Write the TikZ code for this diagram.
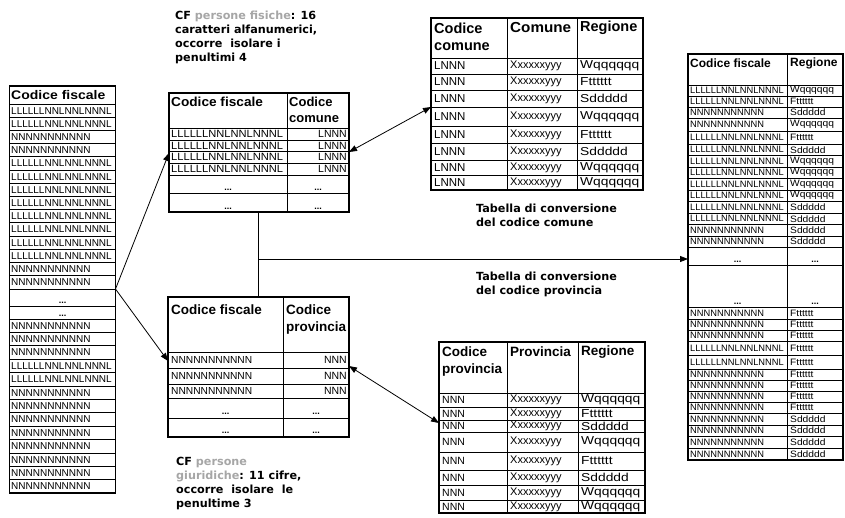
\documentclass[tikz,border=0pt]{standalone}
\usepackage{fontspec}
\usepackage{graphicx}
\setmainfont{Liberation Sans}
\newfontfamily\capfont{DejaVu Sans}
\usetikzlibrary{arrows.meta}
\definecolor{lgray}{RGB}{166,166,166}
\newcommand\cfL{LLLLLLNNLNNLNNNL}
\newcommand\cfN{NNNNNNNNNNN}
\newcommand\rgW{Wqqqqqq}
\newcommand\rgF{Ftttttt}
\newcommand\rgS{Sddddd}
\newcommand\fsz[1]{\fontsize{#1}{#1}\selectfont}
\newcommand\hx[2]{\scalebox{#1}[1]{#2}}
\begin{document}
\begin{tikzpicture}[x=1pt,y=-1pt,
  tframe/.style={draw, line width=1.1pt, inner sep=0pt, outer sep=0pt, anchor=north west},
  rl/.style={line width=0.7pt},
  cell/.style={inner sep=0pt, anchor=west},
  rcell/.style={inner sep=0pt, anchor=east},
  dotcell/.style={inner sep=0pt, anchor=base, font=\fsz{9}\bfseries},
  hd/.style={inner sep=0pt, anchor=west, font=\bfseries},
  conn/.style={line width=0.8pt},
  arr/.style={conn, -{Triangle[length=8pt,width=6pt]}},
  darr/.style={conn, {Triangle[length=8pt,width=6pt]}-{Triangle[length=8pt,width=6pt]}},
  captxt/.style={inner sep=0pt, anchor=north west, align=left, font=\capfont\bfseries\fontsize{11.2}{14}\selectfont}
]
\useasboundingbox (0,0) rectangle (845,517);

% ---------- left table L ----------
\node[tframe, minimum width=106pt, minimum height=407pt] (L) at (9.5,86) {};
\draw[rl] (9.5,104) -- (115.5,104);
\foreach \i in {1,...,13} \draw[rl] (9.5,104+13.2*\i) -- (115.5,104+13.2*\i);
\draw[rl] (9.5,289) -- (115.5,289);
\draw[rl] (9.5,306) -- (115.5,306);
\draw[rl] (9.5,319) -- (115.5,319);
\foreach \i in {1,...,12} \draw[rl] (9.5,319+13.4*\i) -- (115.5,319+13.4*\i);
\node[hd, font=\fsz{12.5}\bfseries] (Lh) at (11,95) {\hx{1.12}{Codice fiscale}};
\foreach \t [count=\i from 0] in {L,L,N,N,L,L,L,L,L,L,L,L,N,N}
  \node[cell, font=\fsz{10}] at (11,110.6+13.2*\i) {\csname cf\t\endcsname};
\foreach \t [count=\i from 0] in {N,N,N,L,L,N,N,N,N,N,N,N,N}
  \node[cell, font=\fsz{10}] at (11,325.7+13.4*\i) {\csname cf\t\endcsname};
\node[dotcell] at (62.5,303) {...};
\node[dotcell] at (62.5,316.5) {...};

% ---------- CF table (comune) ----------
\node[tframe, minimum width=180pt, minimum height=119pt] (CF) at (169,93) {};
\draw[rl] (287,93) -- (287,212);
\foreach \y in {128,140,151,163,175,193} \draw[rl] (169,\y) -- (349,\y);
\node[hd, font=\fsz{13}\bfseries] at (171,102) {\hx{1.05}{Codice fiscale}};
\node[hd, font=\fsz{13}\bfseries] at (289,102) {Codice};
\node[hd, font=\fsz{13}\bfseries] at (289,119) {comune};
\foreach \y in {134,145.5,157,169} {
  \node[cell, font=\fsz{10.5}] at (171,\y) {\hx{1.06}{\cfL}};
  \node[rcell, font=\fsz{10.5}] at (347,\y) {LNNN};
}
\node[dotcell] at (228,190) {...};
\node[dotcell] at (318,190) {...};
\node[dotcell] at (228,209) {...};
\node[dotcell] at (318,209) {...};

% ---------- P table (provincia) ----------
\node[tframe, minimum width=181pt, minimum height=140pt] (P) at (168,297) {};
\draw[rl] (283,297) -- (283,437);
\foreach \y in {352,368,384,398,418} \draw[rl] (168,\y) -- (349,\y);
\node[hd, font=\fsz{13.5}\bfseries] at (171,310) {Codice fiscale};
\node[hd, font=\fsz{13.5}\bfseries] at (286,310) {Codice};
\node[hd, font=\fsz{13.5}\bfseries] at (286,328) {provincia};
\foreach \y in {360,376,391} {
  \node[cell, font=\fsz{10.2}] at (171,\y) {\cfN};
  \node[rcell, font=\fsz{10.5}] at (347,\y) {NNN};
}
\node[dotcell] at (225.5,414) {...};
\node[dotcell] at (316,414) {...};
\node[dotcell] at (225.5,433) {...};
\node[dotcell] at (316,433) {...};

% ---------- C table (conversione comune) ----------
\node[tframe, minimum width=212pt, minimum height=172pt] (C) at (431,18) {};
\draw[rl] (507,18) -- (507,190);
\draw[rl] (577,18) -- (577,190);
\foreach \y in {58,74,90,107,126,143,160,175} \draw[rl] (431,\y) -- (643,\y);
\node[hd, font=\fsz{14.5}\bfseries] at (434,28) {Codice};
\node[hd, font=\fsz{14.5}\bfseries] at (434,47) {comune};
\node[hd, font=\fsz{14.5}\bfseries] at (510,28) {\hx{1.05}{Comune}};
\node[hd, font=\fsz{14.5}\bfseries] at (580,28) {Regione};
\foreach \y/\r in {66/W,82/F,98.5/S,116.5/W,134.5/F,151.5/S,167.5/W,182.5/W} {
  \node[cell, font=\fsz{11.5}] at (434,\y) {LNNN};
  \node[cell, font=\fsz{11}] at (510,\y) {Xxxxxxyyy};
  \node[cell, font=\fsz{11.5}] at (580,\y) {\hx{1.2}{\csname rg\r\endcsname}};
}

% ---------- Q table (conversione provincia) ----------
\node[tframe, minimum width=206pt, minimum height=171pt] (Q) at (439,342) {};
\draw[rl] (507,342) -- (507,513);
\draw[rl] (578,342) -- (578,513);
\foreach \y in {393,407,420,432,452,470,485,500} \draw[rl] (439,\y) -- (645,\y);
\node[hd, font=\fsz{13.5}\bfseries] at (442,352) {Codice};
\node[hd, font=\fsz{13.5}\bfseries] at (442,370) {provincia};
\node[hd, font=\fsz{13.5}\bfseries] at (510,352) {Provincia};
\node[hd, font=\fsz{13.5}\bfseries] at (581,352) {Regione};
\foreach \y/\r in {400/W,413.5/F,426/S,442/W,461/F,477.5/S,492.5/W,506.5/W} {
  \node[cell, font=\fsz{10.5}] at (442,\y) {NNN};
  \node[cell, font=\fsz{11}] at (510,\y) {Xxxxxxyyy};
  \node[cell, font=\fsz{11.5}] at (581,\y) {\hx{1.2}{\csname rg\r\endcsname}};
}

% ---------- R table (far right) ----------
\node[tframe, minimum width=155pt, minimum height=406pt] (R) at (688,54) {};
\draw[rl] (787,54) -- (787,460);
\foreach \y in {85,96,107,118,131,144,155.5,167,178.5,190,201.5,213,224.5,236,247,265,307,319,330,341,355,369,380,391,402,413,425,436,448}
  \draw[rl] (688,\y) -- (843,\y);
\node[hd, font=\fsz{12}\bfseries] at (690,63) {Codice fiscale};
\node[hd, font=\fsz{12}\bfseries] at (790,63) {Regione};
\foreach \y/\a/\r in {90.5/L/W,101.5/L/F,112.5/N/S,124.5/N/W,137.5/L/F,149.75/L/S,161.25/L/W,172.75/L/W,184.25/L/W,195.75/L/W,207.25/L/S,218.75/L/S,230.25/N/S,241.5/N/S,
  313/N/F,324.5/N/F,335.5/N/F,348/L/F,362/L/F,374.5/N/F,385.5/N/F,396.5/N/F,407.5/N/F,419/N/S,430.5/N/S,442/N/S,454/N/S} {
  \node[cell, font=\fsz{9.3}] at (690,\y) {\csname cf\a\endcsname};
  \node[cell, font=\fsz{9.3}] at (790,\y) {\hx{1.1}{\csname rg\r\endcsname}};
}
\node[dotcell] at (737.5,262.5) {...};
\node[dotcell] at (815,262.5) {...};
\node[dotcell] at (737.5,304) {...};
\node[dotcell] at (815,304) {...};

% ---------- connectors ----------
\coordinate (Lout) at (115.5,289);
\coordinate (CFin) at (169,153);
\coordinate (Pin) at (168,361);
\coordinate (CFout) at (349,152);
\coordinate (Cin) at (431,107);
\coordinate (Pout) at (349,366);
\coordinate (Qin) at (439,423);
\coordinate (CFbot) at (258,212);
\coordinate (Ptop) at (258,297);
\coordinate (J) at (258,259);
\coordinate (Rin) at (688,259);
\draw[arr] (Lout) -- (CFin);
\draw[arr] (Lout) -- (Pin);
\draw[darr] (CFout) -- (Cin);
\draw[darr] (Pout) -- (Qin);
\draw[conn] (CFbot) -- (Ptop);
\draw[arr] (J) -- (Rin);

% ---------- captions ----------
\node[captxt] (cap1) at (175,11) {CF {\color{lgray}persone fisiche}: 16\\caratteri alfanumerici,\\occorre\ \ isolare i\\penultimi 4};
\node[captxt] (cap2) at (176,457) {CF {\color{lgray}persone}\\{\color{lgray}giuridiche}: 11 cifre,\\occorre\ \ isolare\ \ le\\penultime 3};
\node[captxt] (cap3) at (476,204) {Tabella di conversione\\del codice comune};
\node[captxt] (cap4) at (476,272) {Tabella di conversione\\del codice provincia};
\end{tikzpicture}
\end{document}
